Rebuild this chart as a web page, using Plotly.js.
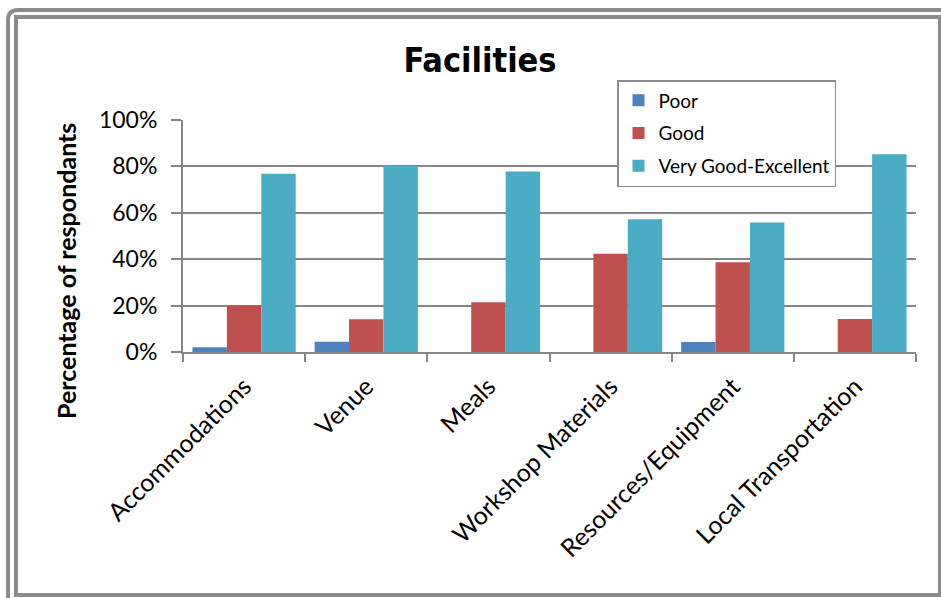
<!DOCTYPE html>
<html>
<head>
<meta charset="utf-8">
<script src="https://cdn.plot.ly/plotly-3.0.1.min.js"></script>
<style>
html,body{margin:0;padding:0;background:#fff;}
#chart{width:941px;height:598px;}
</style>
</head>
<body>
<div id="chart"></div>
<script>
const categories = ["Accommodations", "Venue", "Meals", "Workshop Materials", "Resources/Equipment", "Local Transportation"];
const poor = [2.0, 4.4, 0, 0, 4.3, 0];
const good = [20.1, 14.1, 21.4, 42.3, 38.7, 14.2];
const veryGoodExcellent = [76.8, 80.3, 77.8, 57.2, 55.8, 85.2];
const seriesNames = ["Poor", "Good", "Very Good-Excellent"];
const yTickValues = [0, 20, 40, 60, 80, 100];
const yTickLabels = ["0%", "20%", "40%", "60%", "80%", "100%"];

const W = 941, H = 598;
const M = {l: 183, r: 25, t: 120, b: 246};
const PW = W - M.l - M.r, PH = H - M.t - M.b;
const px = x => (x - M.l) / PW;
const py = y => (H - M.b - y) / PH;

const colors = ["#4F81BD", "#C0504D", "#4BACC6"];
const seriesData = [poor, good, veryGoodExcellent];
const traces = seriesData.map((vals, i) => ({
  type: "bar",
  name: seriesNames[i],
  x: categories,
  y: vals,
  legendgroup: "g" + i,
  marker: {color: colors[i], line: {width: 0}},
  hoverinfo: "x+y+name"
}));

const frameColor = "#8C8C8C";
function roundedPath(x0, y0, x1, y1, r) {
  return "M " + px(x0) + "," + py(y1) +
    " L " + px(x0) + "," + py(y0 + r) +
    " Q " + px(x0) + "," + py(y0) + " " + px(x0 + r) + "," + py(y0) +
    " L " + px(x1) + "," + py(y0) +
    " L " + px(x1) + "," + py(y1) + " Z";
}

const layout = {
  width: W, height: H,
  margin: M,
  paper_bgcolor: "#ffffff",
  plot_bgcolor: "#ffffff",
  barmode: "group",
  bargap: 0.155,
  bargroupgap: 0,
  font: {family: "Lato, 'Open Sans', sans-serif", color: "#000"},
  title: {
    text: "<b>Facilities</b>",
    font: {family: "'DejaVu Sans Condensed', 'DejaVu Sans', sans-serif", size: 34, color: "#000"},
    x: 480 / W, xanchor: "center",
    y: 1 - 60 / H, yanchor: "middle",
    xref: "container", yref: "container"
  },
  xaxis: {
    type: "category",
    tickangle: -45,
    tickfont: {family: "Lato, 'Open Sans', sans-serif", size: 25, color: "#000"},
    ticklabelstandoff: 8,
    showline: true, linecolor: "#868686", linewidth: 2,
    ticks: "outside", ticklen: 8, tickwidth: 2, tickcolor: "#868686",
    tickson: "boundaries",
    showgrid: false,
    automargin: false,
    fixedrange: true
  },
  yaxis: {
    range: [0, 100],
    tickvals: yTickValues,
    ticktext: yTickLabels,
    tickfont: {family: "Lato, 'Open Sans', sans-serif", size: 23, color: "#000"},
    showline: true, linecolor: "#868686", linewidth: 2,
    ticks: "outside", ticklen: 10, tickwidth: 2, tickcolor: "#868686",
    ticklabelstandoff: 9,
    showgrid: true, gridcolor: "#868686", gridwidth: 2,
    zeroline: false,
    automargin: false,
    fixedrange: true
  },
  annotations: [{
    text: "<b>Percentage of respondants</b>",
    xref: "paper", yref: "paper",
    x: px(66), y: py(271),
    xanchor: "center", yanchor: "middle",
    textangle: -90,
    showarrow: false,
    font: {family: "Lato, 'Open Sans', sans-serif", size: 25, color: "#000"}
  }],
  legend: {
    x: px(617), y: py(80),
    xanchor: "left", yanchor: "top",
    bgcolor: "#ffffff",
    bordercolor: "#8C8C8C", borderwidth: 1.5,
    font: {family: "Lato, 'Open Sans', sans-serif", size: 19, color: "#000"},
    tracegroupgap: 5,
    traceorder: "grouped"
  },
  shapes: [
    {type: "path", xref: "paper", yref: "paper", path: roundedPath(8, 10, 960, 620, 10),
     line: {color: frameColor, width: 4}, fillcolor: "rgba(0,0,0,0)", layer: "above"},
    {type: "rect", xref: "paper", yref: "paper", x0: px(16), y0: py(17), x1: px(940), y1: py(595),
     line: {color: frameColor, width: 4}, fillcolor: "rgba(0,0,0,0)", layer: "above"}
  ]
};

Plotly.newPlot("chart", traces, layout, {displayModeBar: false, staticPlot: true});
</script>
</body>
</html>
